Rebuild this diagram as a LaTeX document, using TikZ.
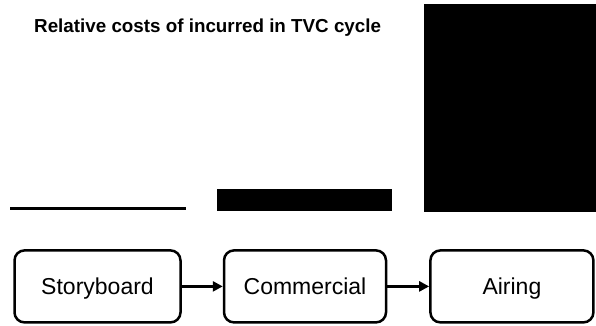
\documentclass[tikz,border=0pt]{standalone}
\usepackage{fontspec}
\setmainfont{Liberation Sans}
\usetikzlibrary{arrows.meta}
\begin{document}
\begin{tikzpicture}[x=1pt,y=-1pt,
  stagebox/.style={draw=black,line width=2.5pt,rounded corners=10pt,minimum height=72pt,inner sep=0pt,text height=17pt,text depth=1.8pt,font=\fontsize{23}{27}\selectfont},
  flowarrow/.style={line width=2.5pt,-{Triangle[length=10pt,width=10pt]}},
  costbar/.style={fill=black,draw=none}]
\useasboundingbox (0,0) rectangle (596,326);
\node[anchor=west,font=\bfseries\fontsize{18.8}{22}\selectfont,inner sep=0pt] (title) at (34,28) {Relative costs of incurred in TVC cycle};
\fill[black] (10,207) rectangle (186,209.5);
\fill[black] (216.7,189.3) rectangle (391.7,210.5);
\fill[black] (424,4) rectangle (596,211.5);
\node[stagebox,minimum width=166pt] (sb) at (97.5,286.4) {Storyboard};
\node[stagebox,minimum width=162pt] (cm) at (305,286.4) {Commercial};
\node[stagebox,minimum width=163pt] (ai) at (511.9,286.4) {Airing};
\draw[flowarrow] (sb.east) -- (cm.west);
\draw[flowarrow] (cm.east) -- (ai.west);
\end{tikzpicture}
\end{document}
